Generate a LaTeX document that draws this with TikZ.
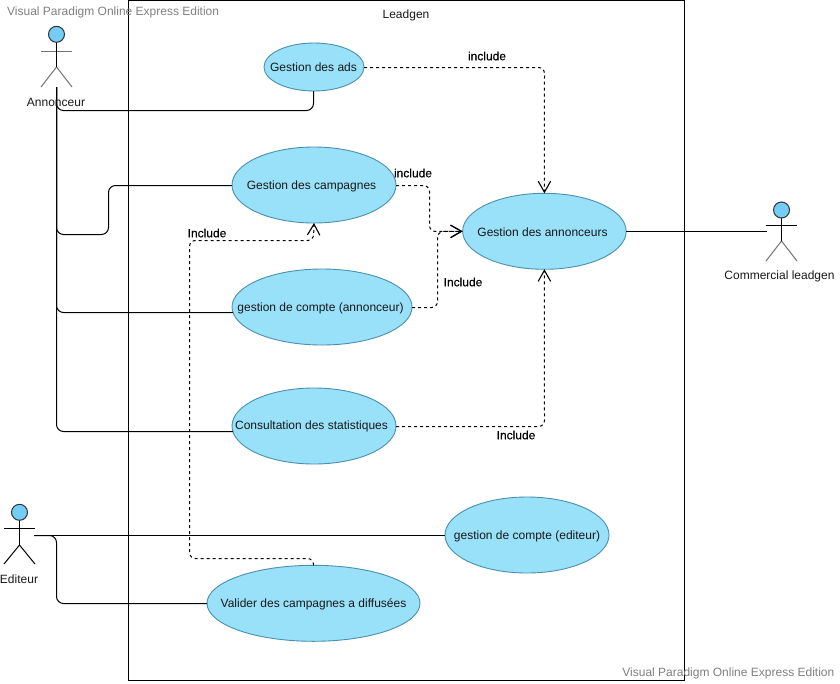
\documentclass[tikz,border=0pt]{standalone}
\usepackage{fontspec}
\setmainfont{Liberation Sans}
\newfontfamily\incfont[FakeBold=0.35]{Liberation Sans}
\usetikzlibrary{arrows.meta,shapes.geometric}
\definecolor{ucfill}{HTML}{99E0F9}
\definecolor{ucline}{HTML}{4A90B0}
\definecolor{headfill}{HTML}{73CDF5}
\tikzset{
  uc/.style={draw=ucline,fill=ucfill,ellipse,line width=0.9pt,inner sep=0pt,outer sep=0pt,minimum width=#1},
  txt/.style={font=\fontsize{12}{14}\selectfont,text=black!90,inner sep=0pt},
  inc/.style={font=\incfont\fontsize{12}{14}\selectfont,text=black,inner sep=0pt},
  wm/.style={font=\fontsize{12}{14}\selectfont,text=black!50,inner sep=0pt},
  assoc/.style={draw=black,line width=1pt,rounded corners=7pt},
  dep/.style={draw=black,line width=1pt,dash pattern=on 3pt off 3pt,rounded corners=6pt,-{Straight Barb[length=11pt,width=12.5pt,line width=1.1pt]}},
  limb/.style={draw=black,line width=1pt},
  limbg/.style={draw=black!55,line width=1pt},
  head/.style={circle,draw=black!80,fill=headfill,line width=1pt,inner sep=0pt,minimum size=16pt}
}
\begin{document}
\begin{tikzpicture}[x=1pt,y=-1pt]
\useasboundingbox (0,0) rectangle (840,683);
\fill[white] (0,0) rectangle (840,683);
% system
\node[draw=black,line width=1pt,minimum width=556pt,minimum height=680pt,inner sep=0pt,outer sep=0pt,anchor=north west] (sys) at (128.5,0.5) {};
\node[txt] (systitle) at (406,15.5) {Leadgen};
% use cases
\node[uc=100pt,minimum height=48pt] (ads) at (314,67) {};
\node[uc=164pt,minimum height=76pt] (camp) at (314,185) {};
\node[uc=180pt,minimum height=76pt] (compte) at (322,307) {};
\node[uc=164pt,minimum height=76pt] (stats) at (314,426) {};
\node[uc=213pt,minimum height=76pt] (valider) at (313.5,603.3) {};
\node[uc=163.5pt,minimum height=76pt] (ann) at (544.4,231.3) {};
\node[uc=164pt,minimum height=76pt] (edit) at (527,535) {};
\node[txt] at (313.5,67.5) {Gestion des ads};
\node[txt] at (311.5,186) {Gestion des campagnes};
\node[txt] at (320.5,308) {gestion de compte (annonceur)};
\node[txt] at (311.5,426.5) {Consultation des statistiques};
\node[txt] at (313.5,604) {Valider des campagnes a diffusées};
\node[txt] at (542.5,232) {Gestion des annonceurs};
\node[txt] at (527,536) {gestion de compte (editeur)};
% actors
\coordinate (aBody) at (56.5,87);
\draw[limbg] (41,87) -- (56.5,67) -- (72,87);
\draw[limbg] (41,51) -- (72,51);
\draw[limb] (56.5,42) -- (56.5,67);
\node[head] (aHead) at (56.5,34.3) {};
\node[txt] (aLabel) at (56,102) {Annonceur};
\coordinate (eFoot) at (34,535.5);
\draw[limb] (4,564) -- (19.5,545) -- (35,564);
\draw[limb] (4,528.5) -- (35,528.5);
\draw[limb] (19.5,520) -- (19.5,545);
\node[head] (eHead) at (19.5,512.3) {};
\node[txt] (eLabel) at (19,579.5) {Editeur};
\coordinate (cFoot) at (767,231.5);
\draw[limbg] (766,261) -- (781.5,241) -- (797,261);
\draw[limb] (766,225.5) -- (797,225.5);
\draw[limb] (781.5,218) -- (781.5,241);
\node[head] (cHead) at (781.5,210) {};
\node[txt] (cLabel) at (779.5,276) {Commercial leadgen};
% associations
\draw[assoc] (aBody) -- (56.5,110.5) -- (313.5,110.5) -- (313.5,91);
\draw[assoc] (aBody) -- (56.5,234.5) -- (108.5,234.5) -- (108.5,185.5) -- (camp.west |- 0,185.5);
\draw[assoc] (aBody) -- (56.5,312.5) -- (233,312.5);
\draw[assoc] (aBody) -- (56.5,431.5) -- (233,431.5);
\draw[assoc] (eFoot) -- (56.5,535.5) -- (56.5,603.5) -- (valider.west |- 0,603.5);
\draw[assoc] (eFoot) -- (edit.west |- 0,535.5);
\draw[assoc] (ann.east |- 0,231.5) -- (cFoot);
% includes
\draw[dep] (ads.east |- 0,67.5) -- (544.5,67.5) -- (ann.north);
\draw[dep] (camp.east |- 0,185.5) -- (429.5,185.5) -- (429.5,231.5) -- (ann.west);
\draw[dep] (compte.east |- 0,307.5) -- (437.5,307.5) -- (437.5,231.5) -- (ann.west);
\draw[dep] (stats.east |- 0,426.5) -- (544.5,426.5) -- (ann.south);
\draw[dep] (valider.north) -- (313.5,558.5) -- (189.5,558.5) -- (189.5,240.5) -- (313.5,240.5) -- (camp.south);
% labels
\node[inc] at (487,56) {include};
\node[inc] at (413,173) {include};
\node[inc] at (463,282) {Include};
\node[inc] at (516,435) {Include};
\node[inc] at (207,233) {Include};
\node[wm,anchor=west] at (7,12) {Visual Paradigm Online Express Edition};
\node[wm,anchor=east] at (834.5,673) {Visual Paradigm Online Express Edition};
\end{tikzpicture}
\end{document}
